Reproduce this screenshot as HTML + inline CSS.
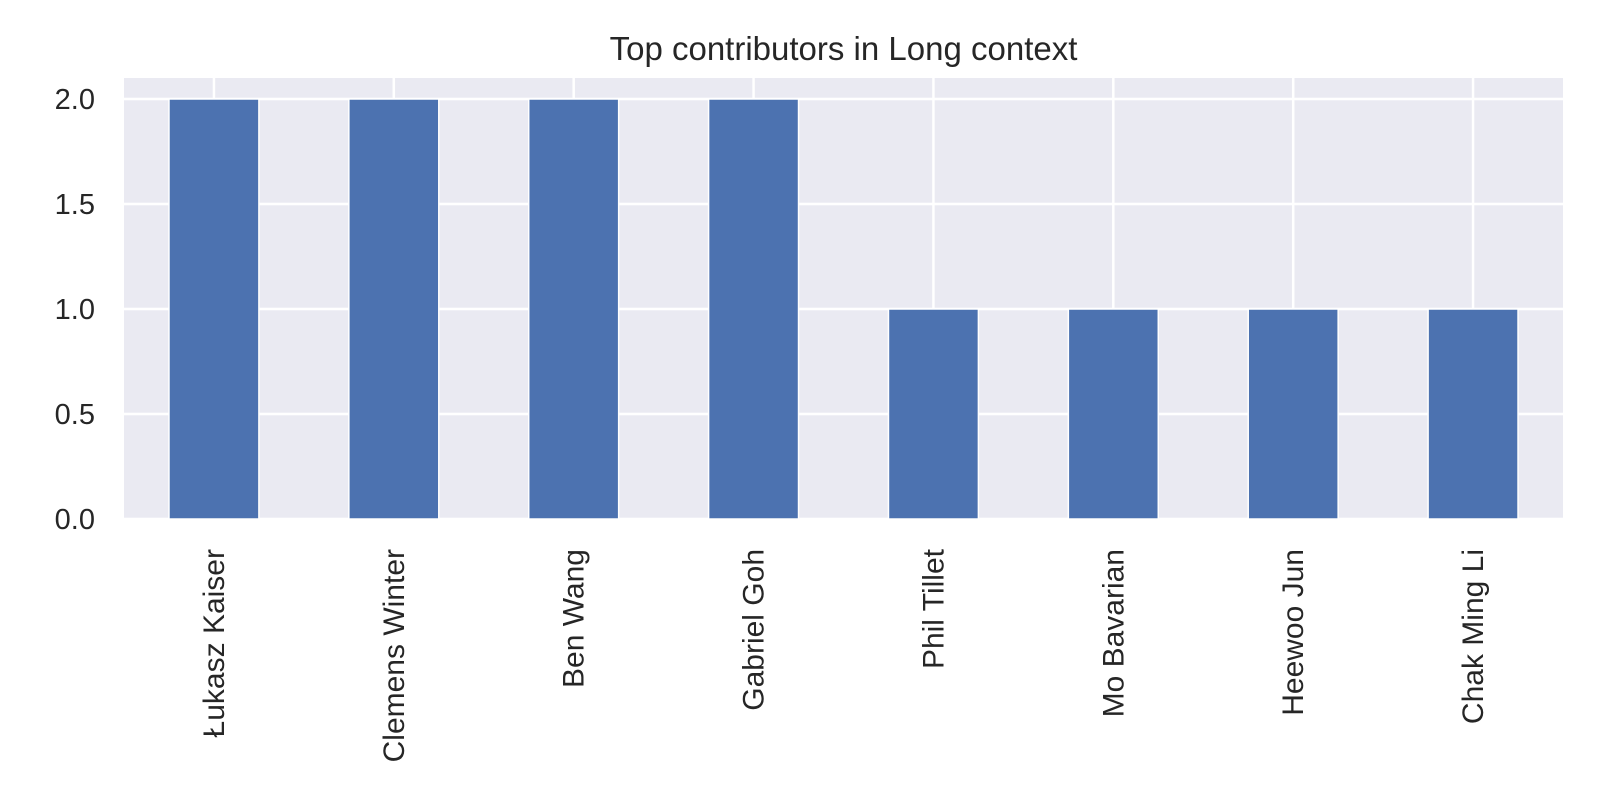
<!DOCTYPE html>
<html><head><meta charset="utf-8"><style>
body{margin:0;background:#fff}
svg{display:block;font-family:"Liberation Sans","DejaVu Sans",sans-serif}
</style></head><body>
<svg id="chart" width="1600" height="800"></svg>
<script>
const categories = ["Łukasz Kaiser","Clemens Winter","Ben Wang","Gabriel Goh","Phil Tillet","Mo Bavarian","Heewoo Jun","Chak Ming Li"];
const values = [2,2,2,2,1,1,1,1];
const yTicks = [0,0.5,1,1.5,2];
const yTickLabels = ["0.0","0.5","1.0","1.5","2.0"];
const NS="http://www.w3.org/2000/svg";
const svg=document.getElementById('chart');
const L=124,R=1563,T=78,B=519,yMax=2.1;
const n=categories.length,step=(R-L)/n;
const xc=i=>L+step*(i+0.5);
const y=v=>B-(v/yMax)*(B-T);
function mk(tag,attrs,parent){const e=document.createElementNS(NS,tag);for(const k in attrs)e.setAttribute(k,attrs[k]);(parent||svg).appendChild(e);return e;}
const bg=mk('rect',{x:L,y:T,width:R-L,height:B-T,fill:'#eaeaf2'});


yTicks.forEach((t,i)=>{
  const g=mk('line',{x1:L,x2:R,y1:y(t),y2:y(t),stroke:'#fff','stroke-width':2.5});
  
  
  const tx=mk('text',{x:L-29,y:y(t)+10,'text-anchor':'end','font-size':29,fill:'#262626'});
  tx.textContent=yTickLabels[i];
  
  
});
categories.forEach((c,i)=>{
  const g=mk('line',{x1:xc(i),x2:xc(i),y1:T,y2:B,stroke:'#fff','stroke-width':2.5});
  
  
});
categories.forEach((c,i)=>{
  const w=step*0.5;
  const b=mk('rect',{x:xc(i)-w/2,y:y(values[i]),width:w,height:B-y(values[i]),fill:'#4c72b0',stroke:'#fff','stroke-width':1.5});
  
  
  const tx=mk('text',{transform:`translate(${xc(i)+10},${B+30}) rotate(-90)`,'text-anchor':'end','font-size':30,fill:'#262626'});
  tx.textContent=c;
  
  
});
const title=mk('text',{x:(L+R)/2,y:60,'text-anchor':'middle','font-size':33,fill:'#262626'});
title.textContent='Top contributors in Long context';


</script>
</body></html>
